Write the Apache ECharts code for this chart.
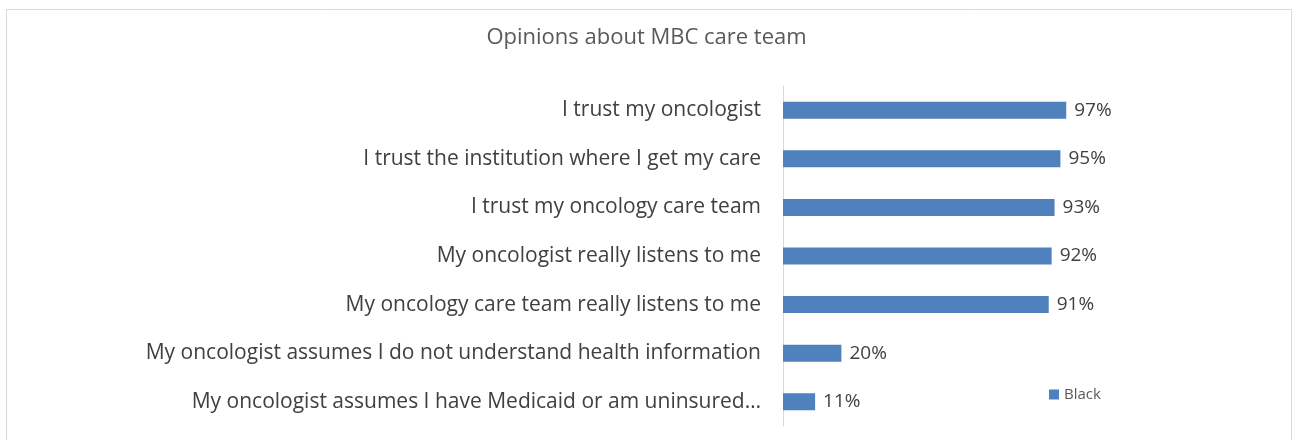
<!DOCTYPE html>
<html><head><meta charset="utf-8">
<script src="https://cdn.jsdelivr.net/npm/echarts@6/dist/echarts.min.js"></script>
<style>html,body{margin:0;padding:0;background:#fff}#c{width:1293px;height:440px}</style>
</head><body><div id="c"></div>
<script>
const categories = [
  "I trust my oncologist",
  "I trust the institution where I get my care",
  "I trust my oncology care team",
  "My oncologist really listens to me",
  "My oncology care team really listens to me",
  "My oncologist assumes I do not understand health information",
  "My oncologist assumes I have Medicaid or am uninsured…"
];
const blackValues = [97, 95, 93, 92, 91, 20, 11];
const seriesName = "Black";
const chartTitle = "Opinions about MBC care team";

const font = "'Open Sans', sans-serif";
const chart = echarts.init(document.getElementById('c'));
chart.setOption({
  animation: false,
  title: { text: chartTitle, left: 'center', top: 22, textStyle: { fontFamily: font, fontSize: 22, fontWeight: 'normal', color: '#595959' } },
  graphic: [{ type: 'rect', shape: { x: 6.5, y: 9.5, width: 1285, height: 440 }, style: { fill: 'none', stroke: '#d9d9d9', lineWidth: 1 }, silent: true }],
  legend: { data: [seriesName], left: 1044, top: 382, itemWidth: 10, itemHeight: 10, itemGap: 5, textStyle: { fontFamily: font, fontSize: 15, color: '#595959' }, icon: 'rect' },
  grid: { left: 783, right: 218, top: 86, bottom: 14 },
  xAxis: { type: 'value', min: 0, max: 100, show: false },
  yAxis: {
    type: 'category', data: categories, inverse: true,
    axisLine: { lineStyle: { color: '#d9d9d9' } },
    axisTick: { length: 5, lineStyle: { color: '#d9d9d9' } },
    axisLabel: { fontFamily: font, fontSize: 21, color: '#404040', margin: 22 }
  },
  series: [{
    name: seriesName, type: 'bar', data: blackValues, barWidth: 17,
    itemStyle: { color: '#4f81bd' },
    label: { show: true, position: 'right', distance: 8, formatter: p => p.value + '%', fontFamily: font, fontSize: 19, color: '#404040' }
  }]
});
</script></body></html>
